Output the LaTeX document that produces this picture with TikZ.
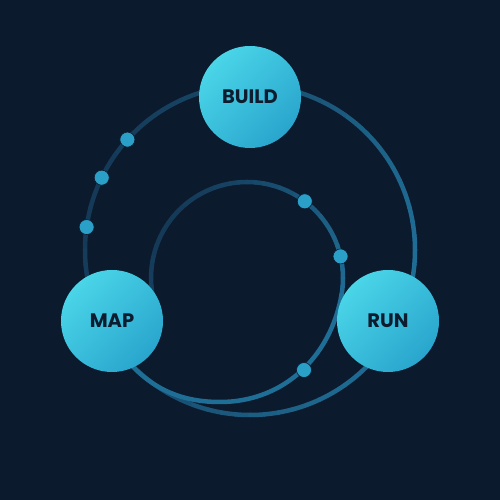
\documentclass[tikz,border=0pt]{standalone}
\usepackage{fontspec}
\setmainfont{Poppins}
\usetikzlibrary{calc}

\definecolor{bgnavy}{HTML}{0C1A2E}
\definecolor{phaseTop}{HTML}{4AD5E8}
\definecolor{phaseBot}{HTML}{29A5CD}
\definecolor{ringDark}{HTML}{153A58}
\definecolor{ringLight}{HTML}{1F6E96}
\definecolor{dotBlue}{HTML}{2A9FC8}
\definecolor{labelInk}{HTML}{0E1C30}

\tikzset{
phase/.style={circle,minimum size=102pt,inner sep=0pt,
  top color=phaseTop,bottom color=phaseBot,shading angle=45,
  text=labelInk,font=\bfseries\fontsize{19.5}{21}\selectfont},
ring/.style={line width=4.5pt,line cap=round},
waydot/.style={circle,fill=dotBlue,draw=bgnavy,line width=0.6pt,minimum size=15pt,inner sep=0pt}
}

\begin{document}
\begin{tikzpicture}[x=1pt,y=1pt]

%%%%%%%%%%%%%%%%%%%%%%%%%%%%%%%%%%%%%%%%%%%%%%%%%%%%%%%%%%
% BACKGROUND
%%%%%%%%%%%%%%%%%%%%%%%%%%%%%%%%%%%%%%%%%%%%%%%%%%%%%%%%%%

\fill[bgnavy](0,0) rectangle (500,500);
\useasboundingbox (0,0) rectangle (500,500);

\coordinate (outer) at (250,250);
\coordinate (inner) at (247,222);

%%%%%%%%%%%%%%%%%%%%%%%%%%%%%%%%%%%%%%%%%%%%%%%%%%%%%%%%%%
% OUTER RING
%%%%%%%%%%%%%%%%%%%%%%%%%%%%%%%%%%%%%%%%%%%%%%%%%%%%%%%%%%

\foreach \a in {0,5,...,355}{
\pgfmathtruncatemacro{\mixp}{50+50*cos(\a+20)}
\draw[ring,ringLight!\mixp!ringDark]
(outer) ++(\a:165) arc[start angle=\a,end angle=\a+5,radius=165];
}

%%%%%%%%%%%%%%%%%%%%%%%%%%%%%%%%%%%%%%%%%%%%%%%%%%%%%%%%%%
% INNER LOOP
%%%%%%%%%%%%%%%%%%%%%%%%%%%%%%%%%%%%%%%%%%%%%%%%%%%%%%%%%%

\foreach \a in {190,185,...,-5}{
\pgfmathtruncatemacro{\mixp}{50+50*cos(\a+30)}
\draw[ring,ringLight!\mixp!ringDark]
(inner) ++(\a:96) arc[start angle=\a,end angle=\a-5,radius=96];
}

\draw[ring,ringLight]
(inner) ++(-10:96) to[out=260,in=0] (220,98)
to[out=180,in=305] (114.8,155.4);

%%%%%%%%%%%%%%%%%%%%%%%%%%%%%%%%%%%%%%%%%%%%%%%%%%%%%%%%%%
% DOTS
%%%%%%%%%%%%%%%%%%%%%%%%%%%%%%%%%%%%%%%%%%%%%%%%%%%%%%%%%%

\node[waydot](dotA) at ($(outer)+(138:165)$){};
\node[waydot](dotB) at ($(outer)+(154:165)$){};
\node[waydot](dotC) at ($(outer)+(172:165)$){};

\node[waydot](dotD) at ($(inner)+(53:96)$){};
\node[waydot](dotE) at ($(inner)+(13:96)$){};
\node[waydot](dotF) at (304,130){};

%%%%%%%%%%%%%%%%%%%%%%%%%%%%%%%%%%%%%%%%%%%%%%%%%%%%%%%%%%
% PHASES
%%%%%%%%%%%%%%%%%%%%%%%%%%%%%%%%%%%%%%%%%%%%%%%%%%%%%%%%%%

\node[phase](build) at (250,403){BUILD};
\node[phase](map) at (112,179){MAP};
\node[phase](run) at (388,179){RUN};

\end{tikzpicture}
\end{document}
